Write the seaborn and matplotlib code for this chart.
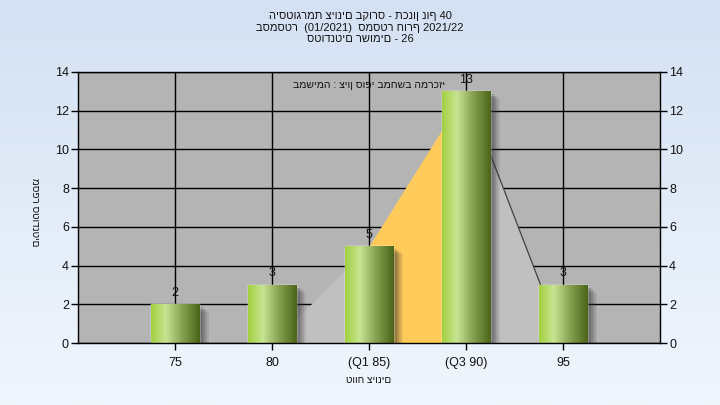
import numpy as np
import matplotlib
matplotlib.use("Agg")
import matplotlib.pyplot as plt
import matplotlib.patheffects as pe
from matplotlib.colors import LinearSegmentedColormap
import seaborn as sns

# ---- data ----
categories = ["75", "80", "(Q1 85)", "(Q3 90)", "95"]
counts = [2, 3, 5, 13, 3]
curve_categories = ["80", "(Q1 85)", "(Q3 90)", "95"]
curve_values = [0, 5, 13, 0]
iqr_categories = ["(Q1 85)", "(Q3 90)"]
y_ticks = [0, 2, 4, 6, 8, 10, 12, 14]

title_text = ("היסטוגרמת ציונים בקורס - תכנון נוף 40\n"
              "בסמסטר  (01/2021)  סמסטר חורף 2021/22\n"
              "סטודנטים רשומים - 26")
note_text = "במשימה : ציון סופי במחשב המרכזי"
x_label = "טווח ציונים"
y_label = "מספר סטודנטים"

sns.set_theme(style="white")
plt.rcParams["font.family"] = ["Liberation Sans", "DejaVu Sans"]
text_color = "#111111"

fig = plt.figure(figsize=(7.2, 4.05), dpi=100)

# background gradient
bg = fig.add_axes([0, 0, 1, 1], zorder=-5)
grad = np.linspace(0, 1, 256).reshape(-1, 1)
bg_cmap = LinearSegmentedColormap.from_list("bg", ["#d4e1f3", "#f0f6fd"])
bg.imshow(grad, aspect="auto", cmap=bg_cmap, extent=[0, 1, 0, 1], origin="upper")
bg.axis("off")

ax = fig.add_axes([78 / 720, 1 - 343 / 405, 582 / 720, 271 / 405])
ax.set_facecolor("#b4b4b4")

pos = {c: i for i, c in enumerate(categories)}
cx = [pos[c] for c in curve_categories]
ax.fill_between(cx, 0, curve_values, color="#c0c0c0", zorder=1, lw=0)
ix = [pos[c] for c in iqr_categories]
iy = [curve_values[curve_categories.index(c)] for c in iqr_categories]
ax.fill_between(ix, 0, iy, color="#fecb5a", zorder=1.1, lw=0)
ax.plot(cx[2:], curve_values[2:], color="#404040", lw=0.9, zorder=1.2)

sns.barplot(x=categories, y=counts, order=categories, width=0.5,
            color="#8aa850", saturation=1, ax=ax, zorder=2)

bar_cmap = LinearSegmentedColormap.from_list(
    "bar", [(0, "#a2d040"), (0.3, "#c8e492"), (0.65, "#84a04e"), (1, "#4a6418")])
hgrad = np.linspace(0, 1, 128).reshape(1, -1)
shadow = [pe.SimplePatchShadow(offset=(o, -o * 0.8), shadow_rgbFace="#303030", alpha=a)
          for o, a in [(7, 0.10), (5.5, 0.14), (4, 0.18), (2.5, 0.2)]]
for p in ax.patches:
    p.set_path_effects(shadow + [pe.Normal()])
    x0, w, h = p.get_x(), p.get_width(), p.get_height()
    im = ax.imshow(hgrad, cmap=bar_cmap, aspect="auto",
                   extent=[x0, x0 + w, 0, h], zorder=2.5)
    im.set_clip_path(p)

ax.bar_label(ax.containers[0], padding=4, fontsize=9, color=text_color, zorder=4)

ax.set_xlim(-1, 5)
ax.set_ylim(0, 14)
ax.set_yticks(y_ticks)
ax.set_xticks(range(len(categories)))
ax.set_xticklabels(categories)
ax.grid(True, color="black", lw=1)
ax.set_axisbelow(True)
for s in ax.spines.values():
    s.set_color("black")
    s.set_linewidth(1)
ax.tick_params(axis="both", direction="out", length=5, width=1, color="black",
               labelsize=9, labelcolor=text_color, pad=1.5)
ax.tick_params(axis="y", left=True, right=True, labelleft=True, labelright=True)
ax.tick_params(axis="x", bottom=True, pad=5)

ax.set_xlabel(x_label, fontsize=7.2, color=text_color, va="center")
ax.xaxis.set_label_coords(0.5, -(380 - 343) / 271)
ax.set_ylabel(y_label, fontsize=7.2, color=text_color, rotation=270, va="center")
ax.yaxis.set_label_coords((35 - 78) / 582, 1 - (212 - 72) / 271)

ax.text(0.5, 1 - 13 / 271, note_text, transform=ax.transAxes, ha="center",
        va="center", fontsize=7.5, color=text_color, zorder=5)

fig.suptitle(title_text, y=1 - 11 / 405, va="top", fontsize=8,
             color=text_color, linespacing=1.2)

fig.savefig("out.png", dpi=100)
